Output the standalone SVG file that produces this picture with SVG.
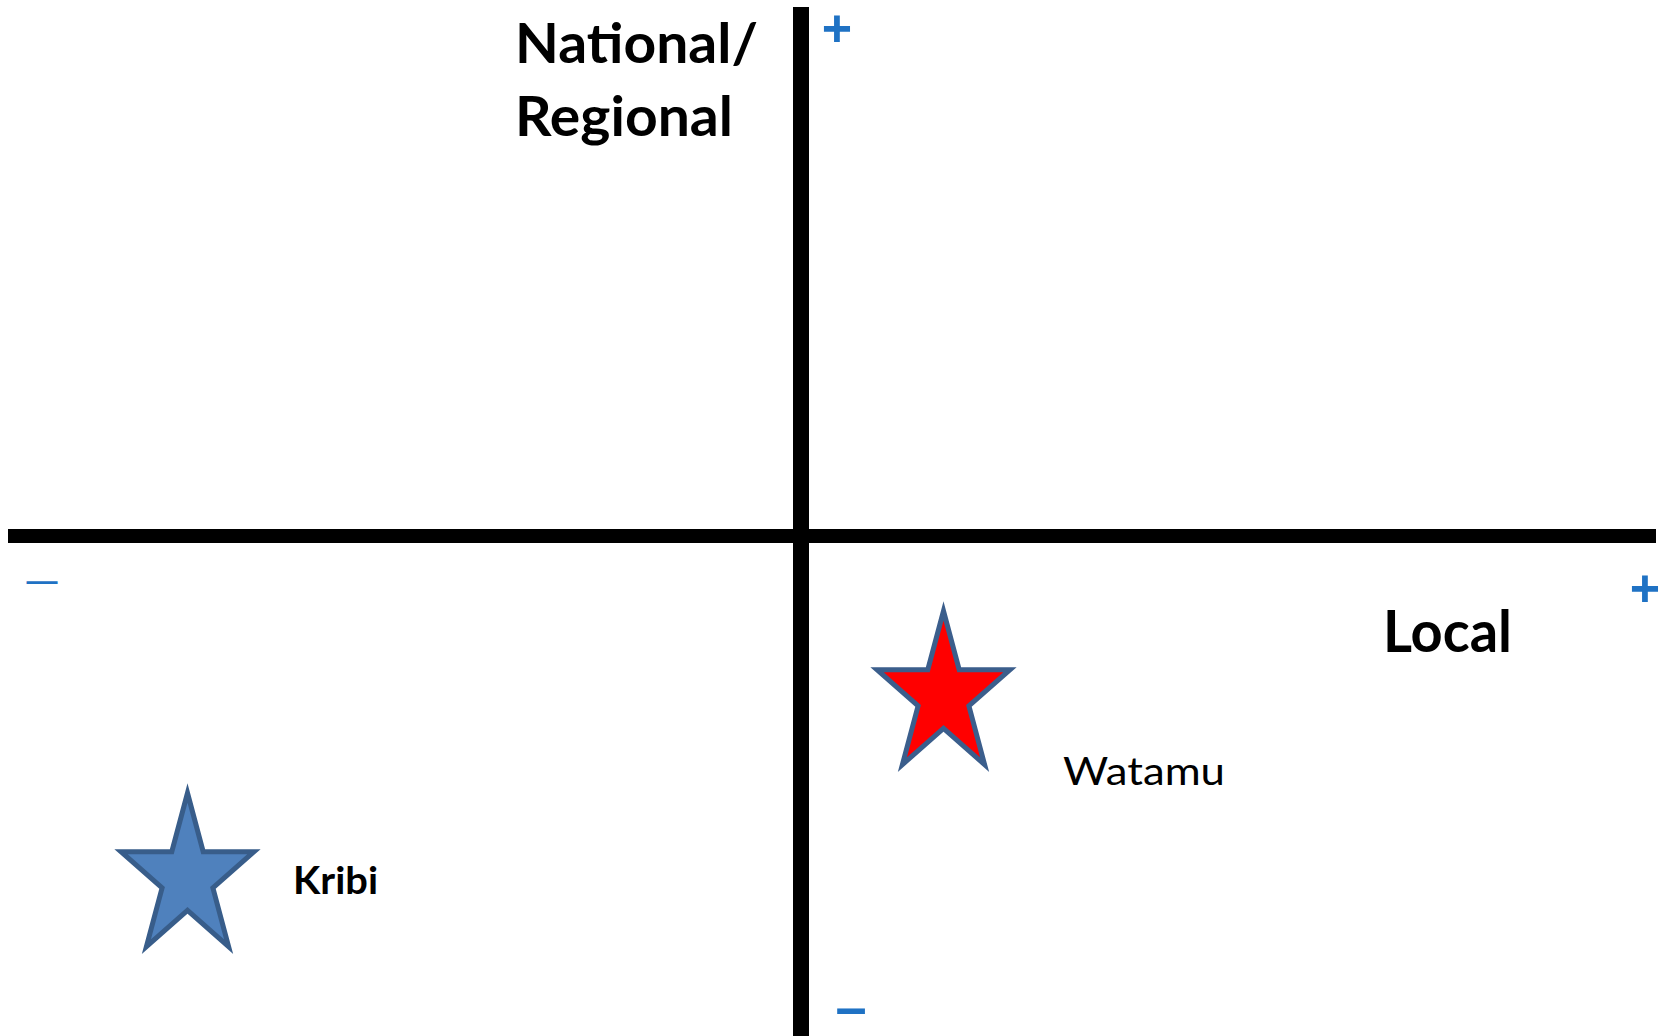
<svg xmlns="http://www.w3.org/2000/svg" width="1671" height="1036" viewBox="0 0 1671 1036">
<style>
.axis{stroke:#000;fill:none}
.lbl{font-family:Lato,"Liberation Sans",sans-serif;fill:#000}
.b{font-weight:bold}
.sign{font-family:"Liberation Sans",Arial,sans-serif;fill:#1f72c4;text-anchor:middle}
.star{stroke-width:5;stroke-linejoin:miter;stroke-miterlimit:10}
</style>
<defs>
<polygon id="starShape" points="943.5,611 959.2,669.7 1010,669.7 968.9,705.9 984.6,764.6 943.5,728.3 902.4,764.6 918.1,705.9 877,669.7 927.8,669.7"/>
</defs>
<rect width="1671" height="1036" fill="#fff"/>
<g id="connectors">
<line class="axis" x1="8" y1="536" x2="1656" y2="536" stroke-width="14"/>
<line class="axis" x1="801" y1="7" x2="801" y2="1036" stroke-width="16"/>
</g>
<g id="axis-labels">
<text class="lbl b" x="515" y="63" font-size="55" textLength="243" lengthAdjust="spacingAndGlyphs">National/</text>
<text class="lbl b" x="515" y="136" font-size="55" textLength="218" lengthAdjust="spacingAndGlyphs">Regional</text>
<text class="lbl b" x="1383" y="652" font-size="58" textLength="129" lengthAdjust="spacingAndGlyphs">Local</text>
<text class="sign b" x="837" y="46" font-size="52">+</text>
<text class="sign b" x="1645" y="606" font-size="52">+</text>
<text class="sign b" x="851" y="1026" font-size="56">–</text>
<text class="sign" x="42" y="593" font-size="40" textLength="31" lengthAdjust="spacingAndGlyphs">–</text>
</g>
<g id="watamu">
<use href="#starShape" class="star" fill="#ff0000" stroke="#3b5e8c"/>
<text class="lbl" x="1063" y="785" font-size="38" textLength="162" lengthAdjust="spacingAndGlyphs">Watamu</text>
</g>
<g id="kribi">
<use href="#starShape" class="star" fill="#4f81bd" stroke="#385d8a" transform="translate(-756,182)"/>
<text class="lbl b" x="293" y="894" font-size="38" textLength="85" lengthAdjust="spacingAndGlyphs">Kribi</text>
</g>
</svg>
